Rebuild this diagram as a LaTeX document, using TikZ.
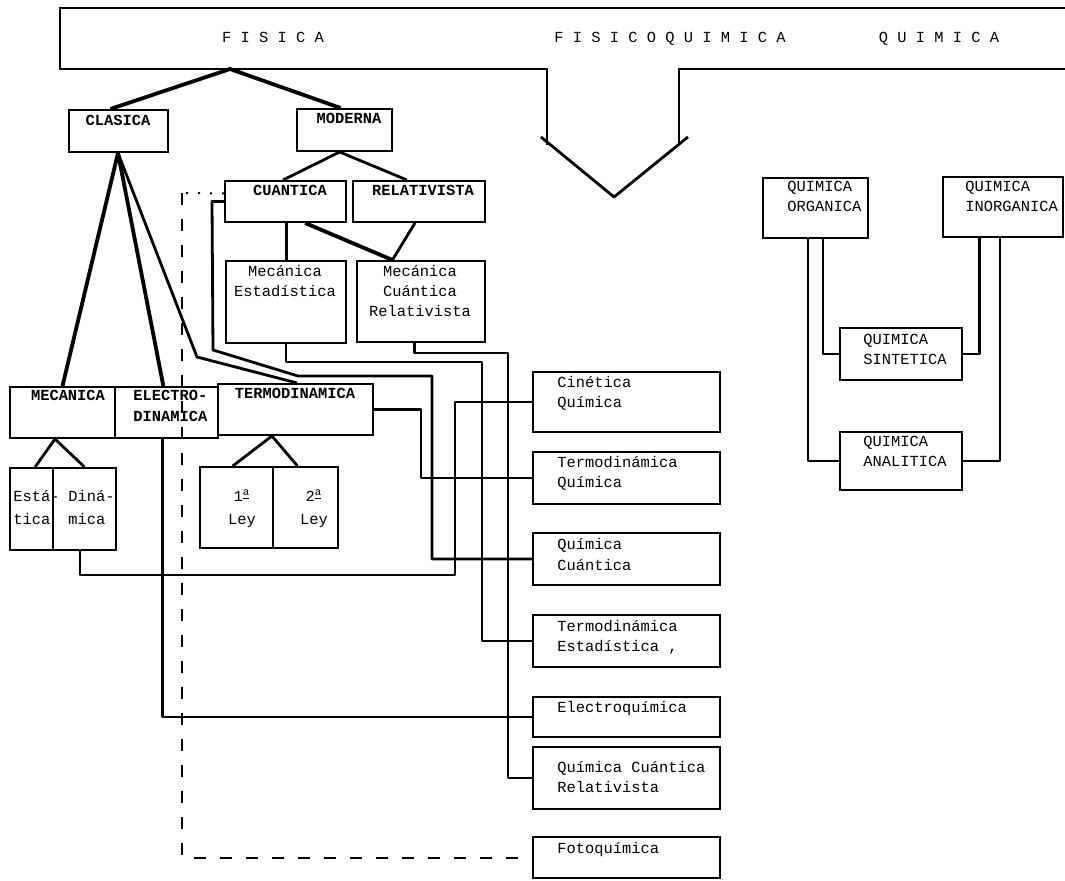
\documentclass[tikz,border=0pt]{standalone}
\usepackage{fontspec}
\setmainfont{Liberation Mono}
\usetikzlibrary{calc,fit}
\begin{document}
\begin{tikzpicture}[x=0.5pt,y=-0.5pt,
  bx/.style={draw, line width=1pt, inner sep=0pt},
  lbl/.style={inner sep=0pt, font=\fontsize{7.7}{10}\selectfont, align=left},
  lblw/.style={inner sep=0pt, font=\fontsize{7.7}{12}\selectfont, align=left},
  ubl/.style={inner sep=0pt, font=\fontsize{7.7}{10.5}\selectfont\bfseries, align=left},
  cn/.style={line width=1.4pt, line join=round},
  thk/.style={line width=1.9pt, line join=round},
  dsh/.style={line width=1pt, dash pattern=on 6pt off 7pt},
  dot/.style={line width=1pt, dash pattern=on 1pt off 5pt}]
\fill[white] (0,0) rectangle (1065,881);
\useasboundingbox (0,0) rectangle (1065,881);

% header
\draw[line width=1pt] (1065,8) -- (60,8) -- (60,69) -- (547,69) -- (547,145);
\draw[line width=1pt] (679,145) -- (679,69) -- (1065,69);
\draw[cn] (541,137) -- (614,197) -- (688,137);
\node[lbl, anchor=base] (hfis) at (273,43) {F I S I C A};
\node[lbl, anchor=base] (hfq) at (670,43) {F I S I C O Q U I M I C A};
\node[lbl, anchor=base] (hqui) at (939,43) {Q U I M I C A};
\coordinate (fis) at (230,69);

% physics boxes
\node[bx, fit={(69,110) (168,152)}] (clas) {};
\node[bx, fit={(297,109) (392,151)}] (mod) {};
\node[bx, fit={(225,181) (346,222)}] (cuan) {};
\node[bx, fit={(353,181) (485,222)}] (rel) {};
\node[bx, fit={(226,261) (346,343)}] (mest) {};
\node[bx, fit={(357,261) (485,342)}] (mcr) {};
\node[bx, fit={(10,387) (115,438)}] (mec) {};
\node[bx, fit={(115,387) (218,438)}] (ele) {};
\node[bx, fit={(218,384) (373,435)}] (ter) {};
\node[bx, fit={(10,468) (53,550)}] (est) {};
\node[bx, fit={(53,468) (116,550)}] (din) {};
\node[bx, fit={(200,467) (273,548)}] (l1) {};
\node[bx, fit={(273,467) (338,548)}] (l2) {};

\node[ubl, anchor=base] (tclas) at (118,126) {CLASICA};
\node[ubl, anchor=base] (tmod) at (349,124) {MODERNA};
\node[ubl, anchor=base] (tcuan) at (290,196) {CUANTICA};
\node[ubl, anchor=base] (trel) at (423,196) {RELATIVISTA};
\node[lbl, anchor=base, align=center] (tmest) at (285,297) {Mecánica\\Estadística};
\node[lbl, anchor=base, align=center] (tmcr) at (420,317) {Mecánica\\Cuántica\\Relativista};
\node[ubl, anchor=base] (tmec) at (68,401) {MECANICA};
\node[ubl, anchor=base west] (tele) at (133,422) {ELECTRO-\\DINAMICA};
\node[ubl, anchor=base] (tter) at (295,399) {TERMODINAMICA};
\node[lblw, anchor=base west] (test) at (13,525) {Está-\\tica};
\node[lblw, anchor=base west] (tdin) at (68,525) {Diná-\\mica};
\node[lblw, anchor=base, align=center] (tl1) at (242,525) {1\textsuperscript{\underline{a}}\\Ley};
\node[lblw, anchor=base, align=center] (tl2) at (314,525) {2\textsuperscript{\underline{a}}\\Ley};

% physical chemistry boxes
\node[bx, fit={(533,372) (720,432)}] (cq) {};
\node[bx, fit={(533,452) (720,504)}] (tq) {};
\node[bx, fit={(533,533) (720,585)}] (qc) {};
\node[bx, fit={(533,615) (720,667)}] (te) {};
\node[bx, fit={(533,697) (720,737)}] (eq) {};
\node[bx, fit={(533,747) (720,809)}] (qcr) {};
\node[bx, fit={(533,837) (720,878)}] (foto) {};
\node[lbl, anchor=base west] (tcq) at (557,408) {Cinética\\Química};
\node[lbl, anchor=base west] (ttq) at (557,488) {Termodinámica\\Química};
\node[lbl, anchor=base west] (tqc) at (557,570) {Química\\Cuántica};
\node[lbl, anchor=base west] (tte) at (557,651) {Termodinámica\\Estadística ,};
\node[lbl, anchor=base west] (teq) at (557,712) {Electroquímica};
\node[lbl, anchor=base west] (tqcr) at (557,792) {Química Cuántica\\Relativista};
\node[lbl, anchor=base west] (tfoto) at (557,853) {Fotoquímica};

% chemistry boxes
\node[bx, fit={(763,178) (868,238)}] (org) {};
\node[bx, fit={(943,177) (1063,237)}] (inorg) {};
\node[bx, fit={(840,328) (962,380)}] (sint) {};
\node[bx, fit={(840,432) (962,490)}] (anal) {};
\node[lbl, anchor=base west] (torg) at (787,212) {QUIMICA\\ORGANICA};
\node[lbl, anchor=base west] (tinorg) at (965,212) {QUIMICA\\INORGANICA};
\node[lbl, anchor=base west] (tsint) at (863,365) {QUIMICA\\SINTETICA};
\node[lbl, anchor=base west] (tanal) at (863,467) {QUIMICA\\ANALITICA};

% FISICA tree
\draw[thk] ($(clas.north west)!0.42!(clas.north east)$) -- (fis) -- ($(mod.north west)!0.46!(mod.north east)$);
\draw[cn] ($(cuan.north west)!0.48!(cuan.north east)$) -- ($(mod.south west)!0.45!(mod.south east)$) -- ($(rel.north west)!0.41!(rel.north east)$);
\coordinate (c1) at ($(cuan.south west)!0.51!(cuan.south east)$);
\draw[cn] (c1) -- (c1 |- mest.north);
\coordinate (m1) at ($(mcr.north west)!0.28!(mcr.north east)$);
\draw[thk] ($(cuan.south west)!0.66!(cuan.south east)$) -- (m1);
\draw[cn] ($(rel.south west)!0.47!(rel.south east)$) -- (m1);
\coordinate (ca) at ($(clas.south west)!0.495!(clas.south east)$);
\draw[thk] (ca) -- ($(mec.north west)!0.5!(mec.north east)$);
\draw[thk] (ca) -- ($(ele.north west)!0.47!(ele.north east)$);
\draw[cn] (ca) -- (197,357) -- ($(ter.north west)!0.51!(ter.north east)$);
\coordinate (ma) at ($(mec.south west)!0.43!(mec.south east)$);
\draw[cn] ($(est.north west)!0.58!(est.north east)$) -- (ma) -- ($(din.north west)!0.5!(din.north east)$);
\coordinate (ta) at ($(ter.south west)!0.35!(ter.south east)$);
\draw[cn] ($(l1.north west)!0.45!(l1.north east)$) -- (ta) -- ($(l2.north west)!0.38!(l2.north east)$);

% links to physical chemistry
\draw[cn] (cuan.west) -- ++(-12,0) -- (213,350) -- (298,376) -- (432,376) |- (qc.west);
\draw[cn] (ter.east) -- ++(47,0) |- (tq.west);
\draw[cn] ($(din.south west)!0.43!(din.south east)$) |- (455,575) |- (cq.west);
\draw[cn] (mest.south) |- (482,362) |- (te.west);
\draw[cn] ($(mcr.south west)!0.45!(mcr.south east)$) |- (508,353) |- (qcr.west);
\draw[cn] ($(ele.south west)!0.46!(ele.south east)$) |- (eq.west);
\coordinate (dk) at (182,193);
\draw[dot] ($(cuan.west)+(0,-8)$) -- (dk);
\draw[dsh] (dk) |- (foto.west);

% chemistry links
\draw[cn] ($(org.south west)!0.57!(org.south east)$) |- (sint.west);
\draw[cn] ($(org.south west)!0.43!(org.south east)$) |- (anal.west);
\draw[cn] ($(inorg.south west)!0.31!(inorg.south east)$) |- (sint.east);
\draw[cn] ($(inorg.south west)!0.475!(inorg.south east)$) |- (anal.east);
\end{tikzpicture}
\end{document}
